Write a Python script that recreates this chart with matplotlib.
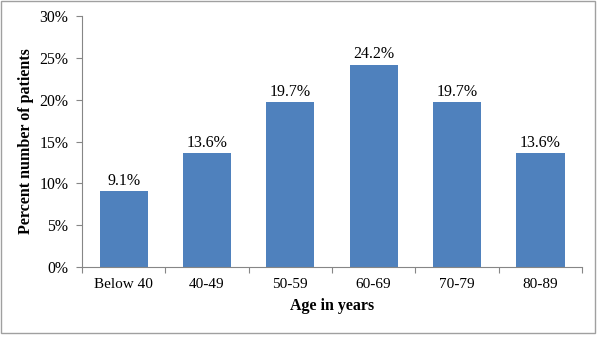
import matplotlib
matplotlib.use("Agg")
import matplotlib.pyplot as plt
from matplotlib.patches import Rectangle
import numpy as np

categories = ["Below 40", "40-49", "50-59", "60-69", "70-79", "80-89"]
values = [9.1, 13.6, 19.7, 24.2, 19.7, 13.6]
yticks = [0, 5, 10, 15, 20, 25, 30]

plt.rcParams['font.family'] = ['Liberation Serif', 'DejaVu Serif']

fig = plt.figure(figsize=(6, 3.37), dpi=100)
ax = fig.add_axes([82/600, 1-267/337, 500/600, 251/337])

x = np.arange(len(categories))
ax.bar(x, values, width=0.58, color="#4F81BD")
for xi, v in zip(x, values):
    ax.text(xi, v + 0.25, f"{v:.1f}%", ha="center", va="bottom", fontsize=11.5)

ax.set_xlim(-0.5, len(categories) - 0.5)
ax.set_ylim(0, 30)
ax.set_yticks(yticks)
ax.set_yticklabels([f"{t}%" for t in yticks], fontsize=11.3)
ax.set_xticks(np.arange(-0.5, len(categories), 1.0))
ax.set_xticklabels([])
ax.set_xticks(x, minor=True)
ax.set_xticklabels(categories, minor=True, fontsize=11)
ax.tick_params(axis="x", which="minor", length=0, pad=8)
ax.tick_params(axis="x", which="major", length=4, color="#868686")
ax.tick_params(axis="y", length=4, color="#868686", pad=6)

for s in ["top", "right"]:
    ax.spines[s].set_visible(False)
for s in ["left", "bottom"]:
    ax.spines[s].set_color("#868686")
    ax.spines[s].set_linewidth(0.8)

ax.set_xlabel("Age in years", fontsize=11.5, fontweight="bold", labelpad=5)
ax.set_ylabel("Percent number of patients", fontsize=11.5, fontweight="bold", labelpad=4)

fig.patches.append(Rectangle((1/600, 4/337), 594/600, 332/337, transform=fig.transFigure,
                             fill=False, edgecolor="#A0A0A0", linewidth=1.0))

fig.savefig("out.png", dpi=100)
